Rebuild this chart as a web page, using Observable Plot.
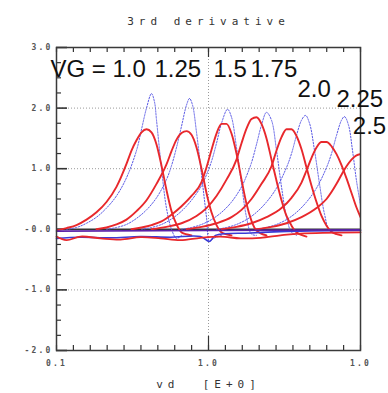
<!DOCTYPE html>
<html>
<head>
<meta charset="utf-8">
<script src="https://cdn.jsdelivr.net/npm/d3@7"></script>
<script src="https://cdn.jsdelivr.net/npm/@observablehq/plot@0.6"></script>
<style>
  html, body { margin: 0; padding: 0; background: #fff; }
  svg { display: block; }
</style>
</head>
<body>
<div id="chart"></div>
<script>
// ---- data ----
const vgLabels = ["VG = 1.0", "1.25", "1.5", "1.75", "2.0", "2.25", "2.5"];
const labelVd  = [0.0913, 0.441, 1.079, 1.89, 3.85, 6.95, 8.9];
const labelVal = [2.52, 2.52, 2.52, 2.52, 2.19, 2.01, 1.57];

const yTickValues = [3, 2, 1, 0, -1, -2];
const yTickLabels = ["3.0", "2.0", "1.0", "-0.0", "-1.0", "-2.0"];
const xTickValues = [0.1, 1, 10];
const xTickLabels = ["0.1", "1.0", "1.0"];
const titleText = "3rd derivative";
const xAxisLabel = "vd  [E+0]";

// solid red curves (simulation), one per VG
const redVd = [
  [0.1, 0.1163, 0.1354, 0.1576, 0.1833, 0.2133, 0.248, 0.2887, 0.3114, 0.336, 0.3625, 0.391, 0.4217, 0.455, 0.4907, 0.529, 0.571, 0.616, 0.6644, 0.773],
  [0.1833, 0.2133, 0.248, 0.2887, 0.336, 0.391, 0.455, 0.529, 0.571, 0.616, 0.6644, 0.7167, 0.773, 0.834, 0.8995, 0.970, 1.046, 1.129, 1.218, 1.417],
  [0.3114, 0.3625, 0.4217, 0.4907, 0.571, 0.6644, 0.773, 0.8995, 0.970, 1.046, 1.129, 1.218, 1.3135, 1.417, 1.528, 1.649, 1.778, 1.918, 2.069, 2.408],
  [0.4217, 0.529, 0.6644, 0.834, 0.970, 1.129, 1.3135, 1.528, 1.649, 1.778, 1.918, 2.069, 2.232, 2.408, 2.597, 2.802, 3.022, 3.26, 3.517, 3.793, 4.414],
  [0.7167, 0.8995, 1.129, 1.417, 1.649, 1.918, 2.232, 2.597, 2.802, 3.022, 3.26, 3.517, 3.793, 4.092, 4.414, 4.762, 5.136, 5.54, 5.977, 6.447, 7.499],
  [1.218, 1.528, 1.918, 2.408, 3.022, 3.517, 4.092, 4.414, 4.762, 5.136, 5.54, 5.977, 6.447, 6.955, 7.499, 8.09, 8.727, 9.413, 10],
  [2.069, 2.597, 3.26, 4.092, 5.136, 5.977, 6.955, 7.499, 8.09, 8.727, 9.413, 10]
];
const redVal = [
  [-0.02, 0.02, 0.07, 0.16, 0.28, 0.45, 0.7, 1.08, 1.3, 1.47, 1.6, 1.65, 1.6, 1.4, 1.05, 0.65, 0.3, 0.08, -0.05, -0.1],
  [0.0, 0.03, 0.08, 0.16, 0.3, 0.48, 0.75, 1.07, 1.29, 1.48, 1.59, 1.62, 1.56, 1.35, 1.0, 0.6, 0.28, 0.07, -0.05, -0.1],
  [0.0, 0.03, 0.07, 0.13, 0.24, 0.38, 0.55, 0.78, 1.02, 1.31, 1.58, 1.74, 1.74, 1.58, 1.25, 0.82, 0.42, 0.14, -0.02, -0.1],
  [0.0, 0.04, 0.1, 0.22, 0.35, 0.55, 0.82, 1.15, 1.42, 1.66, 1.82, 1.85, 1.74, 1.5, 1.15, 0.8, 0.48, 0.22, 0.06, -0.05, -0.12],
  [0.0, 0.04, 0.1, 0.2, 0.32, 0.5, 0.75, 1.04, 1.3, 1.52, 1.65, 1.65, 1.54, 1.32, 1.02, 0.72, 0.45, 0.22, 0.06, -0.04, -0.1],
  [0.0, 0.04, 0.1, 0.2, 0.35, 0.52, 0.77, 0.97, 1.18, 1.35, 1.44, 1.44, 1.37, 1.24, 1.06, 0.84, 0.6, 0.36, 0.2],
  [0.0, 0.04, 0.1, 0.2, 0.35, 0.5, 0.75, 0.9, 1.04, 1.15, 1.22, 1.24]
];

// dotted blue curves (measurement), one per VG
const blueVd = [
  [0.1163, 0.1354, 0.1576, 0.1833, 0.2133, 0.248, 0.2887, 0.336, 0.3625, 0.391, 0.4217, 0.4414, 0.455, 0.4907, 0.529, 0.571, 0.616, 0.6644],
  [0.2133, 0.248, 0.2887, 0.336, 0.391, 0.455, 0.529, 0.571, 0.616, 0.6644, 0.7167, 0.75, 0.785, 0.834, 0.8995, 0.970, 1.015, 1.079, 1.218],
  [0.3625, 0.4217, 0.4907, 0.571, 0.6644, 0.773, 0.8995, 0.970, 1.046, 1.129, 1.218, 1.334, 1.417, 1.528, 1.649, 1.778, 1.918, 2.069],
  [0.6644, 0.773, 0.8995, 1.046, 1.218, 1.417, 1.649, 1.778, 1.918, 2.069, 2.232, 2.408, 2.597, 2.802, 3.022, 3.26, 3.517, 3.793],
  [1.129, 1.3135, 1.528, 1.778, 2.069, 2.408, 2.802, 3.26, 3.517, 3.793, 4.092, 4.348, 4.62, 4.984, 5.374, 5.798, 6.25, 6.955],
  [2.069, 2.408, 2.802, 3.26, 3.793, 4.414, 5.136, 5.977, 6.447, 6.955, 7.499, 7.85, 8.337, 8.86, 9.413, 10]
];
const blueVal = [
  [0.0, 0.03, 0.1, 0.2, 0.35, 0.55, 0.85, 1.3, 1.65, 2.0, 2.24, 2.1, 1.8, 1.0, 0.35, 0.0, -0.15, -0.1],
  [0.0, 0.03, 0.08, 0.18, 0.32, 0.52, 0.82, 1.05, 1.35, 1.7, 2.05, 2.16, 2.05, 1.6, 0.9, 0.2, -0.2, -0.15, -0.1],
  [0.0, 0.03, 0.08, 0.17, 0.3, 0.48, 0.72, 0.9, 1.12, 1.42, 1.75, 1.98, 1.85, 1.35, 0.75, 0.2, -0.08, -0.1],
  [0.0, 0.03, 0.08, 0.16, 0.28, 0.45, 0.7, 0.88, 1.1, 1.4, 1.72, 1.93, 1.8, 1.3, 0.7, 0.2, -0.05, -0.1],
  [0.0, 0.03, 0.08, 0.16, 0.28, 0.45, 0.68, 1.02, 1.25, 1.55, 1.8, 1.88, 1.75, 1.3, 0.75, 0.25, -0.02, -0.08],
  [0.0, 0.03, 0.08, 0.16, 0.28, 0.45, 0.68, 1.02, 1.25, 1.55, 1.8, 1.86, 1.72, 1.3, 0.8, 0.4]
];

// noisy traces near zero
const baseBlueVd  = [0.1, 0.1438, 0.2266, 0.357, 0.5623, 0.8859, 1.015, 1.112, 1.89, 4.03, 10];
const baseBlueVal = [-0.15, -0.13, -0.14, -0.12, -0.13, -0.12, -0.2, -0.1, -0.06, -0.03, -0.02];
const baseRedVd   = [0.1, 0.1163, 0.1438, 0.1947, 0.2637, 0.357, 0.4833, 0.6543, 0.8859, 1.199, 1.624, 2.199, 2.976, 4.03, 10];
const baseRedVal  = [-0.12, -0.18, -0.12, -0.15, -0.17, -0.13, -0.15, -0.18, -0.14, -0.12, -0.15, -0.14, -0.1, -0.07, -0.05];
const basePurpleVd  = [0.1, 1.0, 10];
const basePurpleVal = [-0.03, -0.02, -0.01];

// ---- build tables ----
const toRows = (vds, vals) => vds.flatMap((xs, i) => xs.map((x, j) => ({vd: x, val: vals[i][j], s: i})));
const redRows = toRows(redVd, redVal);
const blueRows = toRows(blueVd, blueVal);
const single = (xs, ys) => xs.map((x, j) => ({vd: x, val: ys[j]}));
const labelRows = vgLabels.map((t, i) => ({t, vd: labelVd[i], val: labelVal[i]}));
const yTickRows = yTickValues.map((v, i) => ({v, t: yTickLabels[i]}));
const xTickRows = xTickValues.map((v, i) => ({v, t: xTickLabels[i]}));

// axis decorations
const xMinor = d3.range(0, 19).map(k => 0.1 * Math.pow(10, k / 9));
const yMinor = d3.range(-2, 3.001, 0.25).filter(v => Math.abs(v - Math.round(v)) > 1e-6);
const yMajor = [-2, -1, 0, 1, 2, 3];

const W = 388, H = 393, mL = 56, mR = 28, mT = 47, mB = 43;
const fw = W - mL - mR, fh = H - mT - mB;

const monoFont = "'DejaVu Sans Mono', monospace";

const chart = Plot.plot({
  width: W, height: H,
  marginLeft: mL, marginRight: mR, marginTop: mT, marginBottom: mB,
  x: {type: "log", domain: [0.1, 10], axis: null},
  y: {domain: [-2, 3], axis: null},
  style: {background: "#fff", overflow: "visible"},
  marks: [
    // grid
    Plot.ruleY([-1, 1, 2], {stroke: "#9a9a9a", strokeWidth: 1, strokeDasharray: "1,2"}),
    Plot.ruleX([1], {stroke: "#9a9a9a", strokeWidth: 1, strokeDasharray: "1,2"}),
    // ticks
    Plot.ruleY(yMinor, {stroke: "#333", strokeWidth: 1.2, insetRight: fw - 5}),
    Plot.ruleY(yMajor, {stroke: "#333", strokeWidth: 1.6, insetRight: fw - 11}),
    Plot.ruleX(xMinor, {stroke: "#333", strokeWidth: 1.2, insetTop: fh - 5}),
    Plot.ruleX(xMinor, {stroke: "#333", strokeWidth: 1.2, insetBottom: fh - 5}),
    Plot.ruleX([1], {stroke: "#333", strokeWidth: 1.2, insetTop: fh - 14}),
    Plot.ruleX([1], {stroke: "#333", strokeWidth: 1.2, insetBottom: fh - 10}),
    // zero line
    Plot.ruleY([0], {stroke: "#333", strokeWidth: 1.4}),
    // measured (dotted blue)
    Plot.line(blueRows, {x: "vd", y: "val", z: "s", stroke: "#5b5be6", strokeWidth: 1, strokeDasharray: "1.5,1.5", curve: "catmull-rom", clip: true}),
    // simulated (solid red)
    Plot.line(redRows, {x: "vd", y: "val", z: "s", stroke: "#e8282c", strokeWidth: 1.9, curve: "monotone-x", clip: true}),
    // noisy traces
    Plot.line(single(baseBlueVd, baseBlueVal), {x: "vd", y: "val", stroke: "#3b3bd6", strokeWidth: 1.6, curve: "catmull-rom"}),
    Plot.line(single(baseRedVd, baseRedVal), {x: "vd", y: "val", stroke: "#e8282c", strokeWidth: 1.8, curve: "catmull-rom"}),
    Plot.line(single(basePurpleVd, basePurpleVal), {x: "vd", y: "val", stroke: "#5a22a8", strokeWidth: 1.6}),
    // frame
    Plot.frame({stroke: "#3a3a3a", strokeWidth: 1.5}),
    // tick labels
    Plot.text(yTickRows, {x: () => 0.1, y: "v", text: "t", textAnchor: "end", dx: -4, fontFamily: monoFont, fontSize: 8, fontWeight: "bold", fill: "#555"}),
    Plot.text(xTickRows, {x: "v", y: () => -2, text: "t", dy: 13, fontFamily: monoFont, fontSize: 8, fontWeight: "bold", fill: "#555"}),
    // titles
    Plot.text([titleText], {frameAnchor: "top", dy: -30, text: d => d, fontFamily: monoFont, fontSize: 11, fill: "#333"}),
    Plot.text([xAxisLabel], {frameAnchor: "bottom", dy: 37, text: d => d, fontFamily: monoFont, fontSize: 11, fill: "#333"}),
    // VG labels
    Plot.text(labelRows, {x: "vd", y: "val", text: "t", textAnchor: "start", lineAnchor: "bottom", fontFamily: "'Liberation Sans', Arial, sans-serif", fontSize: 24, fill: "#111"})
  ]
});

// letter spacing for plotter-like texts
d3.select(chart).selectAll("g[aria-label='text']").each(function() {
  const g = d3.select(this);
  const fam = g.attr("font-family") || "";
  const fs = g.attr("font-size");
  if (fam.includes("DejaVu")) {
    if (fs === "11") g.attr("letter-spacing", "5px");
    else g.attr("letter-spacing", "2.2px");
  }
});
document.getElementById("chart").appendChild(chart);
</script>
</body>
</html>
